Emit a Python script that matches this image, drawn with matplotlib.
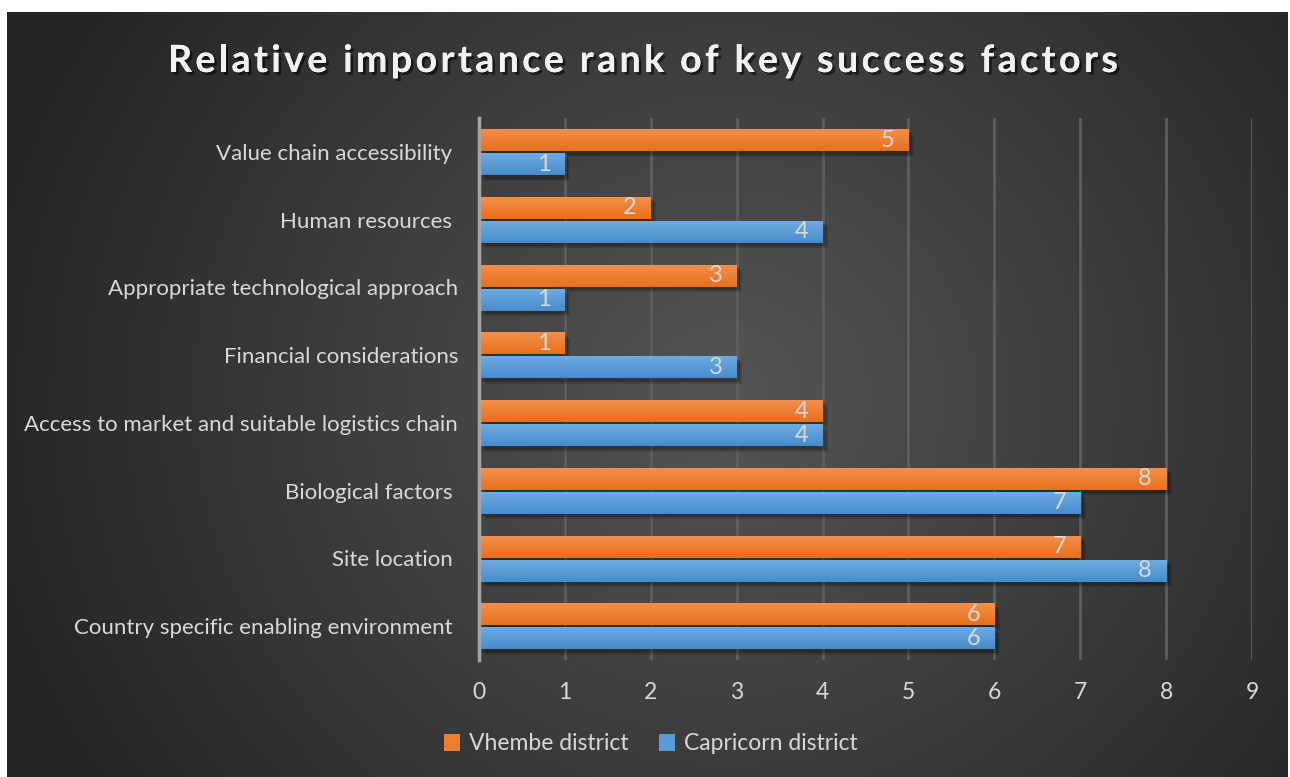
import numpy as np
import matplotlib
matplotlib.use("Agg")
import matplotlib.pyplot as plt
import matplotlib.patheffects as pe
from matplotlib.colors import LinearSegmentedColormap

categories = ["Country specific enabling environment ", "Site location ", "Biological factors ",
              "Access to market and suitable logistics chain", "Financial considerations",
              "Appropriate technological approach", "Human resources ", "Value chain accessibility "]
vhembe = [6, 7, 8, 4, 1, 3, 2, 5]
capricorn = [6, 8, 7, 4, 3, 1, 4, 1]
series_names = ["Vhembe district", "Capricorn district"]
xticks = list(range(0, 10))
title = "Relative importance rank of key success factors"

plt.rcParams['font.family'] = ['Lato', 'DejaVu Sans']
TXT = '#D9D9D9'
W, H = 1290, 777

fig = plt.figure(figsize=(12.9, 7.77), dpi=100)
fig.patch.set_facecolor('white')

# background radial gradient
bg = fig.add_axes([7/W, 0, 1281/W, 765/H])
ny, nx = 300, 500
yy, xx = np.mgrid[0:ny, 0:nx]
cx, cy = nx*0.56, ny*0.5
r = np.sqrt(((xx-cx)/(nx*0.6))**2 + ((yy-cy)/(ny*0.95))**2)
r = np.clip(r, 0, 1)
c0 = np.array([0x55, 0x55, 0x55])/255
c1 = np.array([0x24, 0x24, 0x24])/255
img = c0[None, None, :]*(1-r[..., None]) + c1[None, None, :]*r[..., None]
bg.imshow(img, aspect='auto', extent=[0, 1, 0, 1], interpolation='bilinear')
bg.set_axis_off()

ax = fig.add_axes([479/W, (H-660)/H, (1252-479)/W, (660-118)/H])
ax.set_facecolor('none')

y = np.arange(len(categories))
h = 0.325
shadow = [pe.withSimplePatchShadow(offset=(4, -4), shadow_rgbFace='black', alpha=0.15),
          pe.withSimplePatchShadow(offset=(2.5, -2.5), shadow_rgbFace='black', alpha=0.22),
          pe.Normal()]
b1 = ax.barh(y + 0.175, vhembe, height=h, color='#ED7D31', zorder=3, path_effects=shadow, label=series_names[0])
b2 = ax.barh(y - 0.18, capricorn, height=h, color='#5B9BD5', zorder=3, path_effects=shadow, label=series_names[1])

def grad(bars, top, bot):
    cmap = LinearSegmentedColormap.from_list('g', [top, bot])
    g = np.linspace(0, 1, 64).reshape(-1, 1)
    for b in bars:
        x0, y0, w, hh = b.get_x(), b.get_y(), b.get_width(), b.get_height()
        im = ax.imshow(g, cmap=cmap, aspect='auto', extent=[x0, x0+w, y0, y0+hh],
                       origin='upper', zorder=4, interpolation='bilinear')
        im.set_clip_path(b)

grad(b1, '#F4904F', '#E8701D')
grad(b2, '#72ACE0', '#468CCD')
ax.set_xlim(0, 9)
ax.set_ylim(-0.5, 7.5)

for bars in (b1, b2):
    ax.bar_label(bars, padding=-20, color=TXT, fontsize=17, zorder=6)
for t in ax.texts:
    t.set_zorder(6)

ax.set_xticks(xticks)
ax.set_xticklabels([str(v) for v in xticks])
ax.set_yticks(y)
ax.set_yticklabels(categories)
ax.tick_params(axis='x', length=0, pad=16, labelsize=16.5, labelcolor=TXT)
ax.tick_params(axis='y', length=0, pad=15, labelsize=16, labelcolor=TXT)
ax.grid(axis='x', color='#5E5E5E', linewidth=2, zorder=1)
ax.set_axisbelow(True)
for s in ['top', 'right', 'bottom']:
    ax.spines[s].set_visible(False)
ax.spines['left'].set_color('#A6A6A6')
ax.spines['left'].set_linewidth(2.5)
ax.spines['left'].set_zorder(5)

# letter-spaced title
fig.canvas.draw()
rend = fig.canvas.get_renderer()
tkw = dict(fontsize=27, fontweight='bold', color='#F2F2F2', va='center', ha='left',
           path_effects=[pe.withSimplePatchShadow(offset=(2, -2), shadow_rgbFace='black', alpha=0.55), pe.Normal()])
def width_px(s):
    if not s:
        return 0.0
    t = fig.text(0, 0, s.replace(' ', '\u00a0') if s.endswith(' ') else s, **tkw)
    w = t.get_window_extent(rend).width
    t.remove()
    return w
full = width_px(title)
target_w = 950
n = len(title)
sp = (target_w - full) / (n - 1)
x_start = (W/2 - target_w/2) - 2
ty = (H - 61) / H
for i, ch in enumerate(title):
    if ch == ' ':
        continue
    off = width_px(title[:i])
    fig.text((x_start + off + i*sp) / W, ty, ch, **tkw)

leg = fig.legend(handles=[b1, b2], labels=series_names, loc='center', bbox_to_anchor=(651/W, (H-744)/H),
                 ncol=2, frameon=False, fontsize=16.5, labelcolor=TXT, handlelength=0.7, handleheight=0.7,
                 handletextpad=0.4, columnspacing=1.3)
for hnd in leg.legend_handles:
    hnd.set_path_effects([])

fig.savefig('out.png', dpi=100, facecolor='white')
